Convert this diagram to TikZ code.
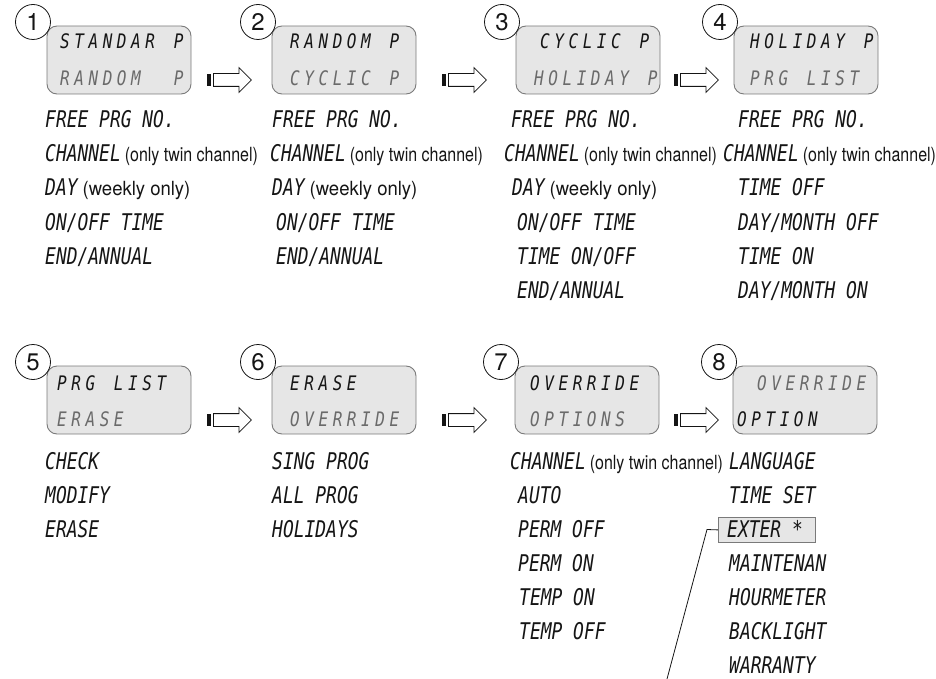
\documentclass[tikz,border=0pt]{standalone}
\usepackage{fontspec}
\setmainfont{TeX Gyre Heros}
\newfontfamily\lcdfam[FakeStretch=0.78]{DejaVu Sans Mono}
\newfontfamily\lcdboxfam[FakeStretch=0.8]{DejaVu Sans Mono}
\newfontfamily\condfam[FakeStretch=0.82]{TeX Gyre Heros}
\newfontfamily\condwfam[FakeStretch=0.95]{TeX Gyre Heros}
\usetikzlibrary{shapes.arrows}
\definecolor{boxfill}{HTML}{E6E6E6}
\definecolor{boxline}{HTML}{7A7A7A}
\definecolor{lcdgray}{HTML}{6A6A6A}
\definecolor{ink}{HTML}{151515}
\newcommand\lcdlist{\lcdfam\itshape\fontsize{23}{23}\selectfont}
\newcommand\lcdb{\lcdboxfam\itshape\fontsize{20}{20}\selectfont}
\newcommand\cond{\condfam\upshape\fontsize{19.5}{19.5}\selectfont}
\newcommand\condw{\condwfam\upshape\fontsize{19.5}{19.5}\selectfont}
\newcommand\numfont{\fontsize{24}{24}\selectfont}
\newcommand\ch{CHANNEL\hspace{4pt}{\cond (only twin channel)}}
\newcommand\dy{DAY\hspace{5pt}{\condw (weekly only)}}
\newlength\lcdcell
\setlength\lcdcell{14.2pt}
\makeatletter
\newcommand\lcdcells[1]{\lcd@loop#1\@nil}
\def\lcd@loop#1{\ifx#1\@nil\else\hbox to \lcdcell{\ifx#1_\else#1\fi\hss}\expandafter\lcd@loop\fi}
\makeatother
\tikzset{
  lcdbox/.style={draw=boxline, fill=boxfill, rounded corners=10pt, line width=0.9pt,
    minimum width=144pt, minimum height=68pt, inner sep=0pt},
  numcirc/.style={circle, draw=ink, line width=0.8pt, minimum size=35pt, inner sep=0pt, font=\numfont, text=ink},
  flow/.style={single arrow, draw=ink, line width=0.8pt, minimum height=38pt,
    single arrow head extend=6pt, single arrow tip angle=90, single arrow head indent=0pt,
    inner xsep=0pt, inner ysep=6pt, anchor=tail},
  item/.style={anchor=base west, inner sep=0pt, font=\lcdlist, text=ink},
  btxt/.style={anchor=base west, inner sep=0pt, font=\lcdb, text=ink},
  btxtg/.style={btxt, text=lcdgray},
  bar/.style={fill=ink},
}
\begin{document}
\begin{tikzpicture}[x=1pt,y=-1pt]
\useasboundingbox (0,0) rectangle (936,679);

% ---------- row 1 displays ----------
\node[lcdbox] (b1) at (119,60) {};
\node[lcdbox] (b2) at (344,60) {};
\node[lcdbox] (b3) at (588,60) {};
\node[lcdbox] (b4) at (806,60) {};
\node[numcirc] (c1) at (33,22) {1};
\node[numcirc] (c2) at (258,22) {2};
\node[numcirc] (c3) at (502,22) {3};
\node[numcirc] (c4) at (720,22) {4};

\node[btxt]  (d11) at (60,49)  {\lcdcells{STANDAR_P}};
\node[btxtg] (d12) at (60,86)  {\lcdcells{RANDOM__P}};
\node[btxt]  (d21) at (290,49) {\lcdcells{RANDOM_P}};
\node[btxtg] (d22) at (290,86) {\lcdcells{CYCLIC_P}};
\node[btxt]  (d31) at (540,49) {\lcdcells{CYCLIC_P}};
\node[btxtg] (d32) at (534,86) {\lcdcells{HOLIDAY_P}};
\node[btxt]  (d41) at (750,49) {\lcdcells{HOLIDAY_P}};
\node[btxtg] (d42) at (750,86) {\lcdcells{PRG_LIST}};

% arrows row 1
\node[flow] (a1) at (213,80) {};
\node[flow] (a2) at (448,80) {};
\node[flow] (a3) at (680,80) {};
\foreach \a in {a1,a2,a3}{
  \fill[bar] ([xshift=-6.5pt,yshift=-6pt]\a.tail) rectangle ([xshift=-2pt,yshift=6pt]\a.tail);
}

% lists row 1
\node[item] (t11) at (45,128) {FREE PRG NO.};
\node[item] (t12) at (45,162) {\ch};
\node[item] (t13) at (45,196) {\dy};
\node[item] (t14) at (45,230) {ON/OFF TIME};
\node[item] (t15) at (45,264) {END/ANNUAL};

\node[item] (t21) at (272,128) {FREE PRG NO.};
\node[item] (t22) at (270,162) {\ch};
\node[item] (t23) at (272,196) {\dy};
\node[item] (t24) at (276,230) {ON/OFF TIME};
\node[item] (t25) at (276,264) {END/ANNUAL};

\node[item] (t31) at (511,128) {FREE PRG NO.};
\node[item] (t32) at (504,162) {\ch};
\node[item] (t33) at (512,196) {\dy};
\node[item] (t34) at (517,230) {ON/OFF TIME};
\node[item] (t35) at (517,264) {TIME ON/OFF};
\node[item] (t36) at (517,298) {END/ANNUAL};

\node[item] (t41) at (738,128) {FREE PRG NO.};
\node[item] (t42) at (723,162) {\ch};
\node[item] (t43) at (738,196) {TIME OFF};
\node[item] (t44) at (738,230) {DAY/MONTH OFF};
\node[item] (t45) at (738,264) {TIME ON};
\node[item] (t46) at (738,298) {DAY/MONTH ON};

% ---------- row 2 displays ----------
\node[lcdbox] (b5) at (119,400) {};
\node[lcdbox] (b6) at (344,400) {};
\node[lcdbox] (b7) at (587,400) {};
\node[lcdbox] (b8) at (805,400) {};
\node[numcirc] (c5) at (33,362) {5};
\node[numcirc] (c6) at (258,362) {6};
\node[numcirc] (c7) at (501,362) {7};
\node[numcirc] (c8) at (719,362) {8};

\node[btxt]  (d51) at (57,390)  {\lcdcells{PRG_LIST}};
\node[btxtg] (d52) at (57,426)  {\lcdcells{ERASE}};
\node[btxt]  (d61) at (290,390) {\lcdcells{ERASE}};
\node[btxtg] (d62) at (290,426) {\lcdcells{OVERRIDE}};
\node[btxt]  (d71) at (530,390) {\lcdcells{OVERRIDE}};
\node[btxtg] (d72) at (530,426) {\lcdcells{OPTIONS}};
\node[btxtg] (d81) at (757,390) {\lcdcells{OVERRIDE}};
\node[btxt]  (d82) at (737,426) {\lcdcells{OPTION}};

% arrows row 2
\node[flow] (a5) at (213,420) {};
\node[flow] (a6) at (448,420) {};
\node[flow] (a7) at (680,420) {};
\foreach \a in {a5,a6,a7}{
  \fill[bar] ([xshift=-6.5pt,yshift=-6pt]\a.tail) rectangle ([xshift=-2pt,yshift=6pt]\a.tail);
}

% lists row 2
\node[item] (u11) at (45,469) {CHECK};
\node[item] (u12) at (45,503) {MODIFY};
\node[item] (u13) at (45,537) {ERASE};

\node[item] (u21) at (272,469) {SING PROG};
\node[item] (u22) at (272,503) {ALL PROG};
\node[item] (u23) at (272,537) {HOLIDAYS};

\node[item] (u31) at (510,469) {\ch};
\node[item] (u32) at (518,503) {AUTO};
\node[item] (u33) at (518,537) {PERM OFF};
\node[item] (u34) at (518,571) {PERM ON};
\node[item] (u35) at (519,605) {TEMP ON};
\node[item] (u36) at (519,639) {TEMP OFF};

\node[draw=boxline, fill=boxfill, line width=0.8pt, minimum width=97pt, minimum height=25pt,
      inner sep=0pt, anchor=north west] (exterbox) at (718,517) {};
\node[item] (u41) at (729,469) {LANGUAGE};
\node[item] (u42) at (729,503) {TIME SET};
\node[item] (u43) at (727,537) {EXTER *};
\node[item] (u44) at (729,571) {MAINTENAN};
\node[item] (u45) at (729,605) {HOURMETER};
\node[item] (u46) at (729,639) {BACKLIGHT};
\node[item] (u47) at (729,673) {WARRANTY};

\coordinate (bend) at (707,529.5);
\coordinate (lead) at (667,679);
\draw[ink, line width=0.8pt] (exterbox.west) -- (bend) -- (lead);
\end{tikzpicture}
\end{document}
